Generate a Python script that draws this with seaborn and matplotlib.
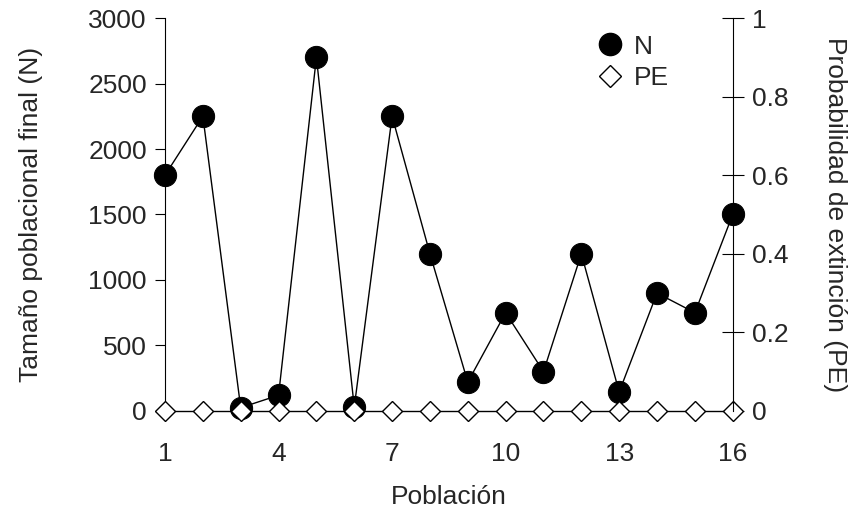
import matplotlib
matplotlib.use("Agg")
import matplotlib.pyplot as plt
import seaborn as sns
import pandas as pd
from matplotlib.lines import Line2D

poblacion = list(range(1, 17))
n_final = [1800, 2250, 25, 120, 2700, 30, 2250, 1200, 220, 750, 300, 1200, 145, 900, 750, 1500]
pe = [0] * 16
xticks = [1, 4, 7, 10, 13, 16]
yticks_left = [0, 500, 1000, 1500, 2000, 2500, 3000]
yticks_right = [0, 0.2, 0.4, 0.6, 0.8, 1]
yticklabels_right = ["0", "0.2", "0.4", "0.6", "0.8", "1"]

sns.set_theme(style="white")
plt.rcParams['font.family'] = ['Liberation Sans', 'DejaVu Sans']
fs = 19

df = pd.DataFrame({"Poblacion": poblacion, "N": n_final, "PE": pe})

fig = plt.figure(figsize=(8.55, 5.15), dpi=100)
ax = fig.add_axes([0.193, 0.202, 0.664, 0.763])
sns.lineplot(data=df, x="Poblacion", y="N", ax=ax, color="black", linewidth=1,
             marker="o", markersize=16, markerfacecolor="black", markeredgecolor="black",
             clip_on=False)
ax.set_xlim(1, 16)
ax.set_ylim(0, 3000)
ax.set_xticks(xticks)
ax.set_xticklabels([str(t) for t in xticks], fontsize=fs)
ax.set_yticks(yticks_left)
ax.set_yticklabels([str(t) for t in yticks_left], fontsize=fs)
ax.tick_params(axis="x", length=0, pad=22)
ax.tick_params(axis="y", direction="out", length=7, width=0.8, color="black", pad=6, left=True)
for s in ["top", "right", "bottom"]:
    ax.spines[s].set_visible(False)
ax.spines["left"].set_color("black")
ax.spines["left"].set_linewidth(0.8)
ax.set_xlabel("Población", fontsize=fs, labelpad=14)
ax.set_ylabel("Tamaño poblacional final (N)", fontsize=fs, labelpad=33)

ax2 = ax.twinx()
sns.lineplot(data=df, x="Poblacion", y="PE", ax=ax2, color="black", linewidth=1,
             marker="D", markersize=10, markerfacecolor="white", markeredgecolor="black",
             markeredgewidth=1, clip_on=False)
ax2.set_ylim(0, 1)
ax2.set_yticks(yticks_right)
ax2.set_yticklabels(yticklabels_right, fontsize=fs)
ax2.tick_params(axis="y", direction="inout", length=16, width=0.8, color="black", pad=6, right=True)
for s in ["top", "left", "bottom"]:
    ax2.spines[s].set_visible(False)
ax2.spines["right"].set_color("black")
ax2.spines["right"].set_linewidth(0.8)
ax2.set_ylabel("Probabilidad de extinción (PE)", fontsize=fs, rotation=270, labelpad=42)
ax2.grid(False)
ax.grid(False)

handles = [
    Line2D([], [], linestyle="none", marker="o", markersize=16, markerfacecolor="black", markeredgecolor="black"),
    Line2D([], [], linestyle="none", marker="D", markersize=11, markerfacecolor="white", markeredgecolor="black"),
]
ax2.legend(handles, ["N", "PE"], loc="upper left", bbox_to_anchor=(0.705, 1.005), frameon=False,
           fontsize=fs, handletextpad=-0.1, labelspacing=0.3, borderaxespad=0.3)

fig.savefig("out.png", dpi=100)
